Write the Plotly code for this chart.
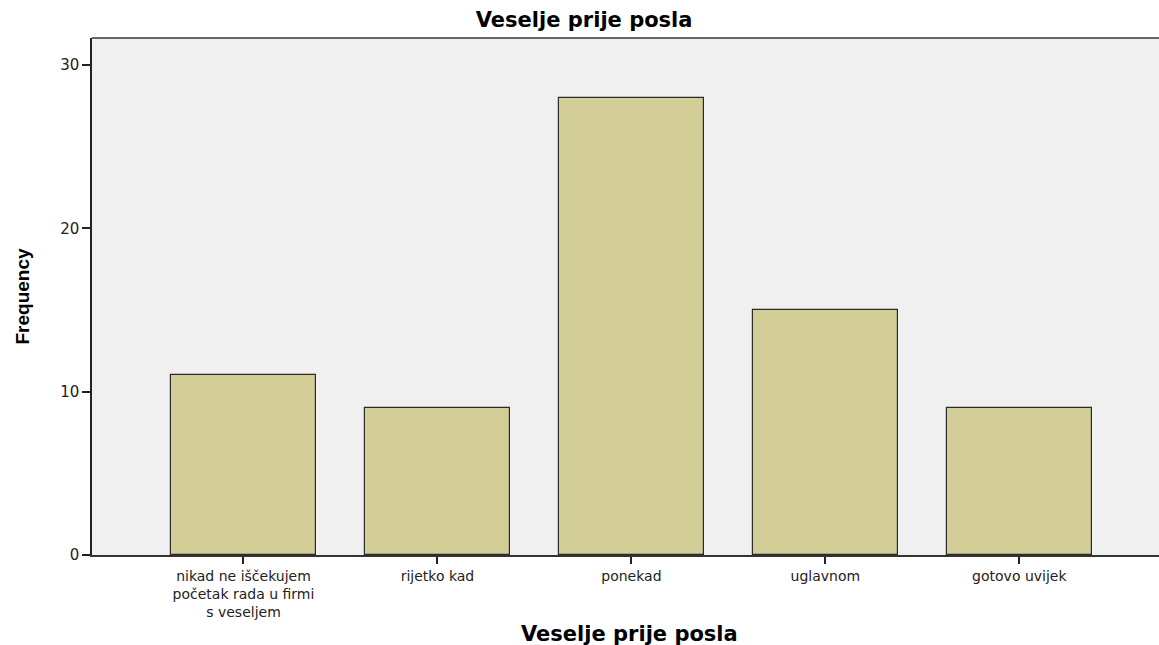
import plotly.graph_objects as go

categories = ["nikad ne iščekujem<br>početak rada u firmi<br>s veseljem",
              "rijetko kad", "ponekad", "uglavnom", "gotovo uvijek"]
frequency = [11, 9, 28, 15, 9]
y_ticks = [0, 10, 20, 30]

W, H = 1159, 645
L, R, T, B = 92, 0, 38, 90

fig = go.Figure()
fig.add_trace(go.Bar(
    x=list(range(len(categories))),
    y=frequency,
    width=0.747,
    marker=dict(color="#d3ce97", line=dict(color="#2b2b2b", width=1.2)),
    hoverinfo="y",
))

xtick_font = dict(family="DejaVu Sans", size=14, color="#222222")
ytick_font = dict(family="DejaVu Sans", size=15, color="#222222")

fig.update_layout(
    width=W, height=H,
    margin=dict(l=L, r=R, t=T, b=B, pad=0),
    paper_bgcolor="white",
    plot_bgcolor="#f0f0f0",
    showlegend=False,
    bargap=0,
    title=dict(text="<b>Veselje prije posla</b>", x=0.504, xanchor="center",
               y=1 - 20 / H, yanchor="middle", yref="container",
               font=dict(family="DejaVu Sans", size=21, color="black")),
    xaxis=dict(
        range=[-0.781, 4.72],
        tickmode="array",
        tickvals=list(range(len(categories))),
        ticktext=categories,
        ticks="outside", ticklen=7, tickwidth=1.5, tickcolor="#222222",
        showline=True, linecolor="#333333", linewidth=1.5,
        showgrid=False, zeroline=False,
        tickfont=xtick_font,
    ),
    yaxis=dict(
        range=[0, 31.66],
        tickmode="array",
        tickvals=y_ticks,
        ticks="outside", ticklen=8, tickwidth=1.5, tickcolor="#222222",
        showline=True, linecolor="#222222", linewidth=1.5,
        showgrid=False, zeroline=False,
        tickfont=ytick_font,
    ),
    annotations=[
        dict(text="<b>Veselje prije posla</b>", xref="paper", yref="paper",
             x=0.504, y=(555 - 634) / 517, xanchor="center", yanchor="middle",
             showarrow=False, font=dict(family="DejaVu Sans", size=21, color="black")),
        dict(text="<b>Frequency</b>", xref="paper", yref="paper",
             x=(22 - 92) / 1067, y=0.5, xanchor="center", yanchor="middle",
             textangle=-90, showarrow=False,
             font=dict(family="Liberation Sans", size=19, color="black")),
    ],
    shapes=[
        dict(type="line", xref="paper", yref="paper", x0=0, x1=1, y0=1, y1=1,
             line=dict(color="#666666", width=2)),
    ],
)

fig.write_html("out.html",
               config={"displayModeBar": False},
               post_script="document.body.style.margin='0';document.body.style.padding='0';")
